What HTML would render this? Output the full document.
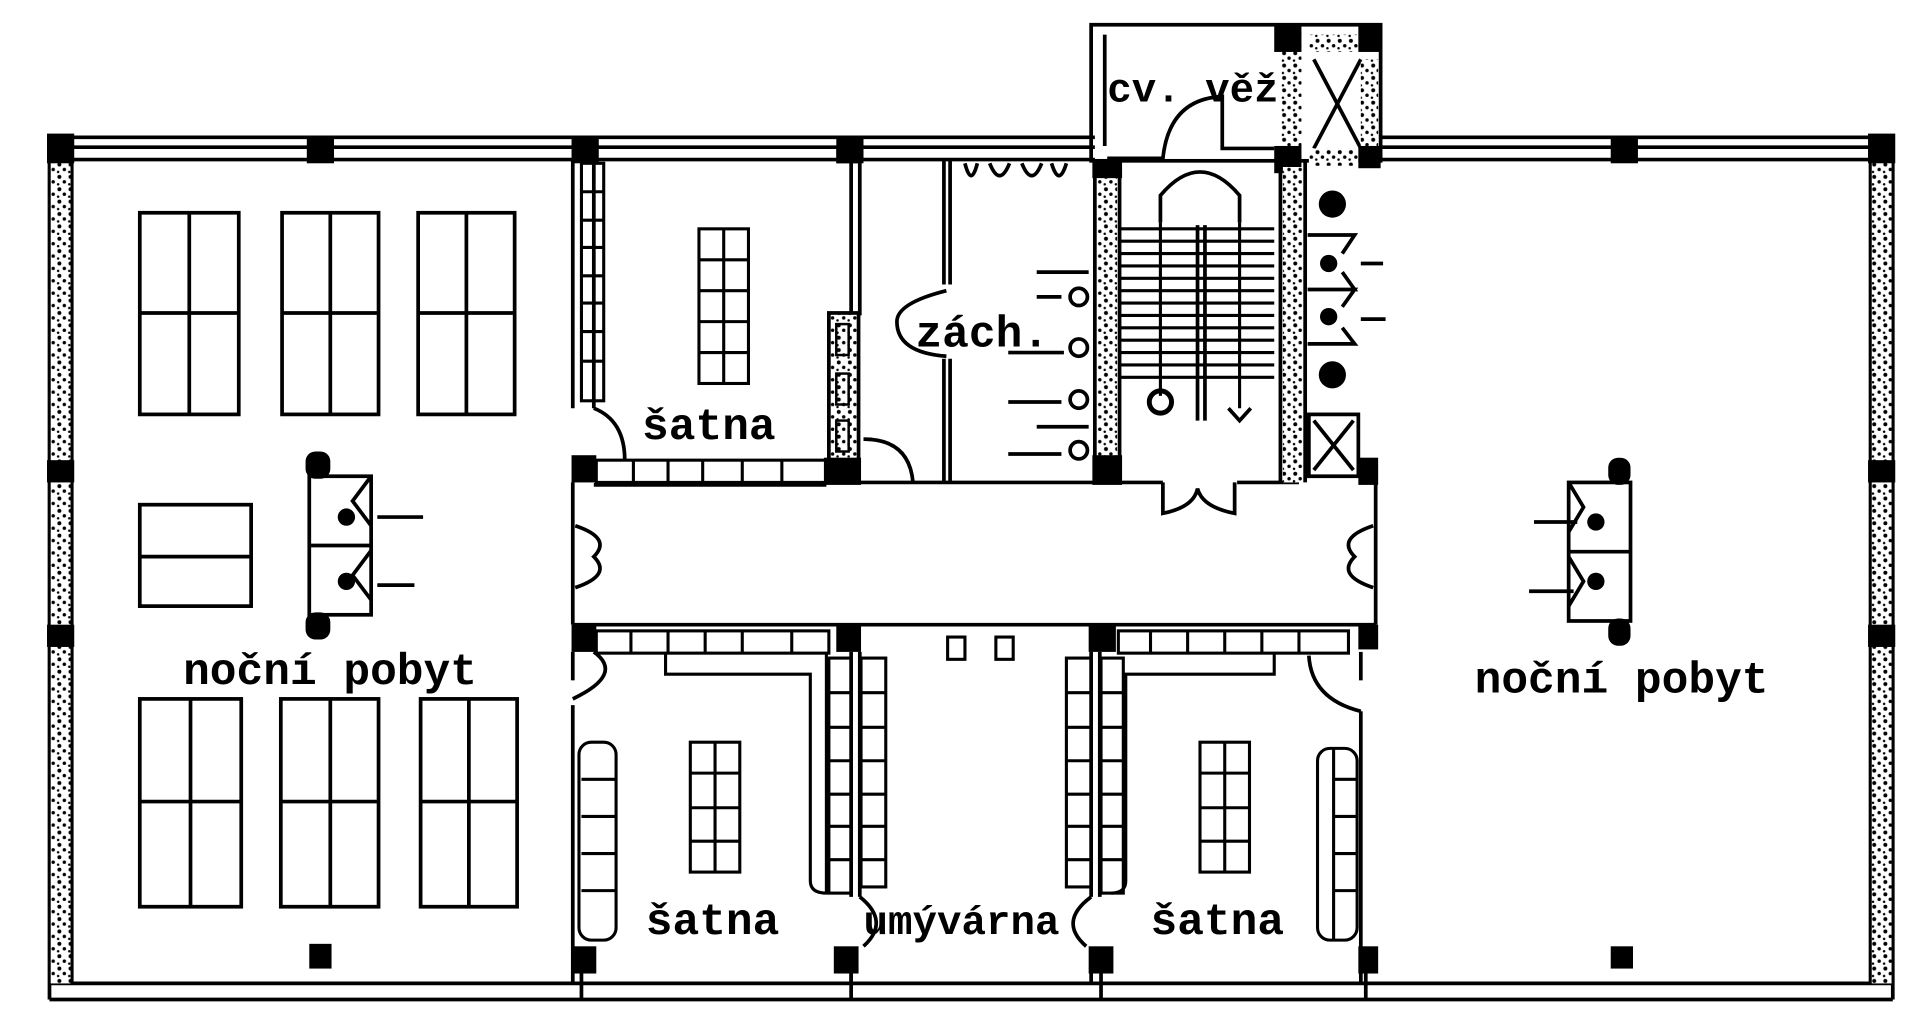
<!DOCTYPE html>
<html><head><meta charset="utf-8"><style>
html,body{margin:0;padding:0;background:#fff;}
svg{display:block;}
text{font-family:"Liberation Mono",monospace;font-weight:bold;fill:#000;}
</style></head><body>
<svg width="1920" height="1023" viewBox="0 0 1552 827" preserveAspectRatio="none" xmlns="http://www.w3.org/2000/svg">
<defs>
<pattern id="dots" width="9" height="10" patternUnits="userSpaceOnUse">
<rect width="9" height="10" fill="#fff"/>
<circle cx="3" cy="3" r="1.6" fill="#000"/><circle cx="7" cy="7" r="1.4" fill="#000"/><circle cx="2" cy="9" r="1" fill="#000"/>
</pattern>
</defs>
<g fill="none" stroke="#000" stroke-width="3">
<line x1="40" y1="111" x2="885" y2="111"/><line x1="40" y1="119" x2="885" y2="119"/><line x1="40" y1="129" x2="885" y2="129"/>
<line x1="1116" y1="111" x2="1530" y2="111"/><line x1="1116" y1="119" x2="1530" y2="119"/><line x1="1116" y1="129" x2="1530" y2="129"/>
<line x1="40" y1="795" x2="1530" y2="795"/><line x1="40" y1="808" x2="1530" y2="808"/>
<line x1="40" y1="111" x2="40" y2="808"/><line x1="58" y1="129" x2="58" y2="795"/>
<line x1="1512" y1="129" x2="1512" y2="795"/><line x1="1530" y1="111" x2="1530" y2="808"/>
</g>
<rect x="41" y="130" width="16" height="665" fill="url(#dots)"/>
<rect x="1513" y="130" width="16" height="665" fill="url(#dots)"/>
<g fill="#000">
<rect x="38" y="108" width="22" height="24"/><rect x="1510" y="108" width="22" height="24"/>
<rect x="38" y="372" width="22" height="18"/><rect x="38" y="505" width="22" height="18"/>
<rect x="1510" y="372" width="22" height="18"/><rect x="1510" y="505" width="22" height="18"/>
<rect x="248" y="110" width="22" height="22"/><rect x="462" y="110" width="22" height="22"/><rect x="676" y="110" width="22" height="22"/>
<rect x="1302" y="110" width="22" height="22"/>
<rect x="250" y="763" width="18" height="20"/><rect x="1302" y="765" width="18" height="18"/>
<rect x="462" y="765" width="20" height="22"/><rect x="674" y="765" width="20" height="22"/><rect x="880" y="765" width="20" height="22"/><rect x="1098" y="765" width="16" height="22"/>
<rect x="462" y="368" width="20" height="22"/><rect x="462" y="505" width="20" height="22"/>
<rect x="1098" y="370" width="16" height="22"/><rect x="1098" y="505" width="16" height="20"/>
<rect x="676" y="505" width="20" height="22"/><rect x="880" y="505" width="22" height="22"/>
</g>
<g fill="none" stroke="#000" stroke-width="3">
<rect x="882" y="20" width="234" height="110"/>
<line x1="893" y1="28" x2="893" y2="118"/>
<path d="M895 128 L940 128 Q945 80 988 78 L988 120 L1030 120"/>
<line x1="1062" y1="48" x2="1100" y2="120"/><line x1="1100" y1="48" x2="1062" y2="120"/>
</g>
<rect x="1036" y="22" width="16" height="108" fill="url(#dots)"/>
<rect x="1100" y="48" width="14" height="72" fill="url(#dots)"/>
<rect x="1058" y="28" width="40" height="14" fill="url(#dots)"/>
<rect x="1058" y="120" width="40" height="14" fill="url(#dots)"/>
<g fill="#000"><rect x="1030" y="20" width="22" height="22"/><rect x="1098" y="20" width="18" height="22"/><rect x="1030" y="118" width="22" height="22"/><rect x="1098" y="118" width="18" height="18"/></g>
<g fill="none" stroke="#000" stroke-width="3">
<line x1="463" y1="130" x2="463" y2="330"/><line x1="480" y1="130" x2="480" y2="330"/>
<line x1="688" y1="130" x2="688" y2="255"/><line x1="695" y1="130" x2="695" y2="255"/>
<line x1="763" y1="130" x2="763" y2="230"/><line x1="768" y1="130" x2="768" y2="230"/>
<line x1="763" y1="290" x2="763" y2="390"/><line x1="768" y1="290" x2="768" y2="390"/>
<line x1="463" y1="390" x2="463" y2="505"/><line x1="1112" y1="390" x2="1112" y2="505"/>
<line x1="480" y1="392" x2="668" y2="392"/><line x1="695" y1="390" x2="940" y2="390"/>
<line x1="1000" y1="390" x2="1050" y2="390"/>
<line x1="463" y1="505" x2="1112" y2="505"/>
<path d="M465 425 Q495 435 480 450 Q495 465 465 475"/>
<path d="M1110 425 Q1080 435 1095 450 Q1080 465 1110 475"/>
<path d="M480 330 Q505 340 505 372"/>
<path d="M698 355 Q735 355 738 390"/>
<path d="M765 235 Q725 245 725 260 Q725 285 765 288"/>
<path d="M940 390 L940 415 Q965 410 968 395 Q972 410 998 415 L998 390"/>
<line x1="463" y1="527" x2="463" y2="550"/><line x1="463" y1="570" x2="463" y2="795"/>
<path d="M480 527 Q505 545 463 565"/>
<line x1="1100" y1="527" x2="1100" y2="550"/><line x1="1100" y1="575" x2="1100" y2="795"/>
<path d="M1058 530 Q1060 565 1100 575"/>
<line x1="688" y1="527" x2="688" y2="725"/><line x1="695" y1="527" x2="695" y2="725"/>
<line x1="882" y1="527" x2="882" y2="725"/><line x1="889" y1="527" x2="889" y2="725"/>
<line x1="688" y1="780" x2="688" y2="795"/><line x1="882" y1="780" x2="882" y2="795"/>
<path d="M695 725 Q720 745 698 765"/><path d="M882 725 Q855 745 878 765"/>
<line x1="470" y1="785" x2="470" y2="808"/><line x1="688" y1="785" x2="688" y2="808"/><line x1="890" y1="785" x2="890" y2="808"/><line x1="1104" y1="785" x2="1104" y2="808"/>
<line x1="885" y1="130" x2="885" y2="390"/><line x1="905" y1="130" x2="905" y2="390"/>
<line x1="1035" y1="130" x2="1035" y2="390"/><line x1="1055" y1="130" x2="1055" y2="390"/>
</g>
<rect x="887" y="140" width="16" height="232" fill="url(#dots)"/>
<rect x="1037" y="135" width="16" height="255" fill="url(#dots)"/>
<rect x="670" y="253" width="24" height="137" fill="url(#dots)" stroke="#000" stroke-width="3"/>
<g fill="none" stroke="#000" stroke-width="2"><rect x="676" y="262" width="10" height="25"/><rect x="676" y="302" width="10" height="25"/><rect x="676" y="340" width="10" height="25"/></g>
<g fill="#000"><rect x="883" y="130" width="24" height="14"/><rect x="883" y="368" width="24" height="24"/><rect x="666" y="370" width="30" height="22"/><rect x="676" y="118" width="20" height="14"/></g>
<g stroke="#000" stroke-width="3" fill="none">
<path d="M938 180 L938 158 Q970 120 1002 158 L1002 180"/>
<line x1="968" y1="182" x2="968" y2="340"/><line x1="974" y1="182" x2="974" y2="340"/>
</g>
<g stroke="#000" stroke-width="2.5">
<line x1="905" y1="185" x2="1030" y2="185"/><line x1="905" y1="195" x2="1030" y2="195"/><line x1="905" y1="205" x2="1030" y2="205"/><line x1="905" y1="215" x2="1030" y2="215"/><line x1="905" y1="225" x2="1030" y2="225"/><line x1="905" y1="235" x2="1030" y2="235"/><line x1="905" y1="245" x2="1030" y2="245"/><line x1="905" y1="255" x2="1030" y2="255"/><line x1="905" y1="265" x2="1030" y2="265"/><line x1="905" y1="275" x2="1030" y2="275"/><line x1="905" y1="285" x2="1030" y2="285"/><line x1="905" y1="295" x2="1030" y2="295"/><line x1="905" y1="305" x2="1030" y2="305"/>
<line x1="938" y1="180" x2="938" y2="320"/><line x1="1002" y1="180" x2="1002" y2="330"/>
</g>
<circle cx="938" cy="325" r="9" fill="none" stroke="#000" stroke-width="4"/>
<path d="M993 330 L1002 340 L1011 330" fill="none" stroke="#000" stroke-width="3"/>
<g fill="#000"><circle cx="1077" cy="165" r="11"/><circle cx="1077" cy="303" r="11"/><circle cx="1074" cy="213" r="7"/><circle cx="1074" cy="256" r="7"/></g>
<g fill="none" stroke="#000" stroke-width="3">
<path d="M1057 190 L1095 190 L1085 205 M1057 234 L1095 234 L1085 220 M1057 234 L1095 234 L1085 248 M1057 278 L1095 278 L1085 265"/>
<line x1="1100" y1="213" x2="1118" y2="213"/><line x1="1100" y1="258" x2="1120" y2="258"/>
<rect x="1058" y="335" width="40" height="50"/><line x1="1062" y1="340" x2="1094" y2="380"/><line x1="1094" y1="340" x2="1062" y2="380"/>
</g>
<g fill="none" stroke="#000" stroke-width="3">
<circle cx="872" cy="240" r="7"/><circle cx="872" cy="281" r="7"/><circle cx="872" cy="323" r="7"/><circle cx="872" cy="364" r="7"/>
<line x1="838" y1="220" x2="880" y2="220"/><line x1="838" y1="240" x2="858" y2="240"/>
<line x1="815" y1="285" x2="860" y2="285"/><line x1="815" y1="325" x2="858" y2="325"/><line x1="838" y1="345" x2="880" y2="345"/><line x1="815" y1="367" x2="858" y2="367"/>
<path d="M780 132 Q785 152 790 132 M800 132 Q808 152 816 132 M826 132 Q834 152 842 132 M850 132 Q856 152 862 132"/>
</g>
<g fill="none" stroke="#000" stroke-width="3">
<rect x="113" y="172" width="80" height="163"/><line x1="153" y1="172" x2="153" y2="335"/><line x1="113" y1="253" x2="193" y2="253"/>
<rect x="228" y="172" width="78" height="163"/><line x1="267" y1="172" x2="267" y2="335"/><line x1="228" y1="253" x2="306" y2="253"/>
<rect x="338" y="172" width="78" height="163"/><line x1="377" y1="172" x2="377" y2="335"/><line x1="338" y1="253" x2="416" y2="253"/>
<rect x="113" y="408" width="90" height="82"/><line x1="113" y1="450" x2="203" y2="450"/>
<rect x="113" y="565" width="82" height="168"/><line x1="154" y1="565" x2="154" y2="733"/><line x1="113" y1="648" x2="195" y2="648"/>
<rect x="227" y="565" width="79" height="168"/><line x1="267" y1="565" x2="267" y2="733"/><line x1="227" y1="648" x2="306" y2="648"/>
<rect x="340" y="565" width="78" height="168"/><line x1="379" y1="565" x2="379" y2="733"/><line x1="340" y1="648" x2="418" y2="648"/>
<rect x="250" y="385" width="50" height="112"/><line x1="250" y1="441" x2="300" y2="441"/>
<path d="M300 385 L285 405 L300 425 M300 445 L285 465 L300 485"/>
<line x1="305" y1="418" x2="342" y2="418"/><line x1="305" y1="473" x2="335" y2="473"/>
<rect x="1268" y="390" width="50" height="112"/><line x1="1268" y1="446" x2="1318" y2="446"/>
<path d="M1268 390 L1280 410 L1268 430 M1268 450 L1280 470 L1268 490"/>
<line x1="1240" y1="422" x2="1275" y2="422"/><line x1="1236" y1="478" x2="1272" y2="478"/>
</g>
<g fill="#000"><circle cx="280" cy="418" r="7"/><circle cx="280" cy="470" r="7"/><circle cx="1290" cy="422" r="7"/><circle cx="1290" cy="470" r="7"/>
<rect x="247" y="365" width="20" height="22" rx="8"/><rect x="247" y="495" width="20" height="22" rx="8"/>
<rect x="1300" y="370" width="18" height="22" rx="8"/><rect x="1300" y="500" width="18" height="22" rx="8"/></g>
<g fill="none" stroke="#000" stroke-width="2.5">
<rect x="470" y="132" width="18" height="192"/>
<line x1="470" y1="155" x2="488" y2="155"/><line x1="470" y1="178" x2="488" y2="178"/><line x1="470" y1="200" x2="488" y2="200"/><line x1="470" y1="223" x2="488" y2="223"/><line x1="470" y1="245" x2="488" y2="245"/><line x1="470" y1="268" x2="488" y2="268"/><line x1="470" y1="292" x2="488" y2="292"/>
<rect x="482" y="372" width="186" height="18"/>
<line x1="512" y1="372" x2="512" y2="390"/><line x1="540" y1="372" x2="540" y2="390"/><line x1="568" y1="372" x2="568" y2="390"/><line x1="600" y1="372" x2="600" y2="390"/><line x1="632" y1="372" x2="632" y2="390"/>
<rect x="565" y="185" width="40" height="125"/><line x1="585" y1="185" x2="585" y2="310"/>
<line x1="565" y1="210" x2="605" y2="210"/><line x1="565" y1="235" x2="605" y2="235"/><line x1="565" y1="260" x2="605" y2="260"/><line x1="565" y1="285" x2="605" y2="285"/>
<rect x="558" y="600" width="40" height="105"/><line x1="578" y1="600" x2="578" y2="705"/>
<line x1="558" y1="625" x2="598" y2="625"/><line x1="558" y1="653" x2="598" y2="653"/><line x1="558" y1="680" x2="598" y2="680"/>
<rect x="970" y="600" width="40" height="105"/><line x1="990" y1="600" x2="990" y2="705"/>
<line x1="970" y1="625" x2="1010" y2="625"/><line x1="970" y1="653" x2="1010" y2="653"/><line x1="970" y1="680" x2="1010" y2="680"/>
<rect x="482" y="510" width="188" height="18"/>
<line x1="510" y1="510" x2="510" y2="528"/><line x1="540" y1="510" x2="540" y2="528"/><line x1="570" y1="510" x2="570" y2="528"/><line x1="600" y1="510" x2="600" y2="528"/><line x1="640" y1="510" x2="640" y2="528"/>
<rect x="904" y="510" width="186" height="18"/>
<line x1="930" y1="510" x2="930" y2="528"/><line x1="960" y1="510" x2="960" y2="528"/><line x1="990" y1="510" x2="990" y2="528"/><line x1="1020" y1="510" x2="1020" y2="528"/><line x1="1050" y1="510" x2="1050" y2="528"/>
<path d="M538 528 L538 545 L655 545 L655 712 Q655 722 668 722 L668 528"/>
<path d="M1030 528 L1030 545 L910 545 L910 712 Q910 722 898 722"/>
<rect x="670" y="532" width="18" height="190"/>
<line x1="670" y1="560" x2="688" y2="560"/><line x1="670" y1="588" x2="688" y2="588"/><line x1="670" y1="615" x2="688" y2="615"/><line x1="670" y1="642" x2="688" y2="642"/><line x1="670" y1="668" x2="688" y2="668"/><line x1="670" y1="695" x2="688" y2="695"/>
<rect x="696" y="532" width="20" height="185"/>
<line x1="696" y1="560" x2="716" y2="560"/><line x1="696" y1="588" x2="716" y2="588"/><line x1="696" y1="615" x2="716" y2="615"/><line x1="696" y1="642" x2="716" y2="642"/><line x1="696" y1="668" x2="716" y2="668"/><line x1="696" y1="695" x2="716" y2="695"/>
<rect x="862" y="532" width="20" height="185"/>
<line x1="862" y1="560" x2="882" y2="560"/><line x1="862" y1="588" x2="882" y2="588"/><line x1="862" y1="615" x2="882" y2="615"/><line x1="862" y1="642" x2="882" y2="642"/><line x1="862" y1="668" x2="882" y2="668"/><line x1="862" y1="695" x2="882" y2="695"/>
<rect x="890" y="532" width="18" height="190"/>
<line x1="890" y1="560" x2="908" y2="560"/><line x1="890" y1="588" x2="908" y2="588"/><line x1="890" y1="615" x2="908" y2="615"/><line x1="890" y1="642" x2="908" y2="642"/><line x1="890" y1="668" x2="908" y2="668"/><line x1="890" y1="695" x2="908" y2="695"/>
<rect x="468" y="600" width="30" height="160" rx="10"/><line x1="470" y1="630" x2="498" y2="630"/><line x1="470" y1="660" x2="498" y2="660"/><line x1="470" y1="690" x2="498" y2="690"/><line x1="470" y1="720" x2="498" y2="720"/>
<rect x="1065" y="605" width="32" height="155" rx="10"/><line x1="1078" y1="630" x2="1097" y2="630"/><line x1="1078" y1="660" x2="1097" y2="660"/><line x1="1078" y1="690" x2="1097" y2="690"/><line x1="1078" y1="720" x2="1097" y2="720"/><line x1="1078" y1="605" x2="1078" y2="760"/>
<rect x="766" y="515" width="14" height="18"/><rect x="805" y="515" width="14" height="18"/>
</g>
<g font-size="36">
<text x="148" y="553">noční pobyt</text>
<text x="1192" y="560">noční pobyt</text>
<text x="519" y="355">šatna</text>
<text x="522" y="755">šatna</text>
<text x="930" y="755">šatna</text>
<text x="698" y="755" font-size="33">umývárna</text>
<text x="740" y="280">zách.</text>
<text x="895" y="82" font-size="33">cv. věž</text>
</g>
</svg>
</body></html>
